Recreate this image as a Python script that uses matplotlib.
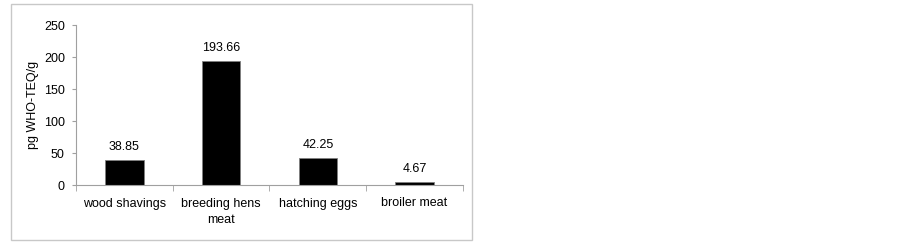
import matplotlib
matplotlib.use("Agg")
import matplotlib.pyplot as plt
from matplotlib.patches import Rectangle
import numpy as np

categories = ["wood shavings", "breeding hens\nmeat", "hatching eggs", "broiler meat"]
values = [38.85, 193.66, 42.25, 4.67]
value_labels = ["38.85", "193.66", "42.25", "4.67"]
yticks = [0, 50, 100, 150, 200, 250]

plt.rcParams['font.family'] = ['Liberation Sans', 'DejaVu Sans']
plt.rcParams['font.size'] = 9

W, H = 903, 246
fig = plt.figure(figsize=(W/100, H/100), dpi=100)
fig.patches.append(Rectangle((11/W, 1-240/H), (472-11)/W, (240-4)/H,
                             transform=fig.transFigure, fill=False,
                             edgecolor="#c8c8c8", linewidth=1))
ax = fig.add_axes([76/W, 1-185/H, (463-76)/W, (185-25)/H])
x = np.arange(len(categories))
ax.bar(x, values, width=0.4, color="black", edgecolor="#808080", linewidth=0.6)
ax.set_xlim(-0.5, len(categories)-0.5)
ax.set_ylim(0, 250)
ax.set_yticks(yticks)
ax.set_xticks(x)
ax.set_xticklabels(categories, linespacing=1.5)
ax.set_xticks(np.arange(-0.5, len(categories)), minor=True)
ax.tick_params(axis='x', which='major', length=0, pad=9)
ax.tick_params(axis='x', which='minor', length=4, color="#a0a0a0", direction='out')
ax.tick_params(axis='y', length=3, color="#a0a0a0", pad=5)
for s in ['top', 'right']:
    ax.spines[s].set_visible(False)
for s in ['left', 'bottom']:
    ax.spines[s].set_color("#a0a0a0")
    ax.spines[s].set_linewidth(0.8)
for xi, v, lbl in zip(x, values, value_labels):
    ax.annotate(lbl, (xi, v), xytext=(0, 5), textcoords='offset points',
                ha='center', va='bottom')
ax.set_ylabel("pg WHO-TEQ/g", fontsize=9, va='center')
ax.yaxis.set_label_coords((33-76)/387, 0.5)
fig.savefig("out.png", dpi=100)
